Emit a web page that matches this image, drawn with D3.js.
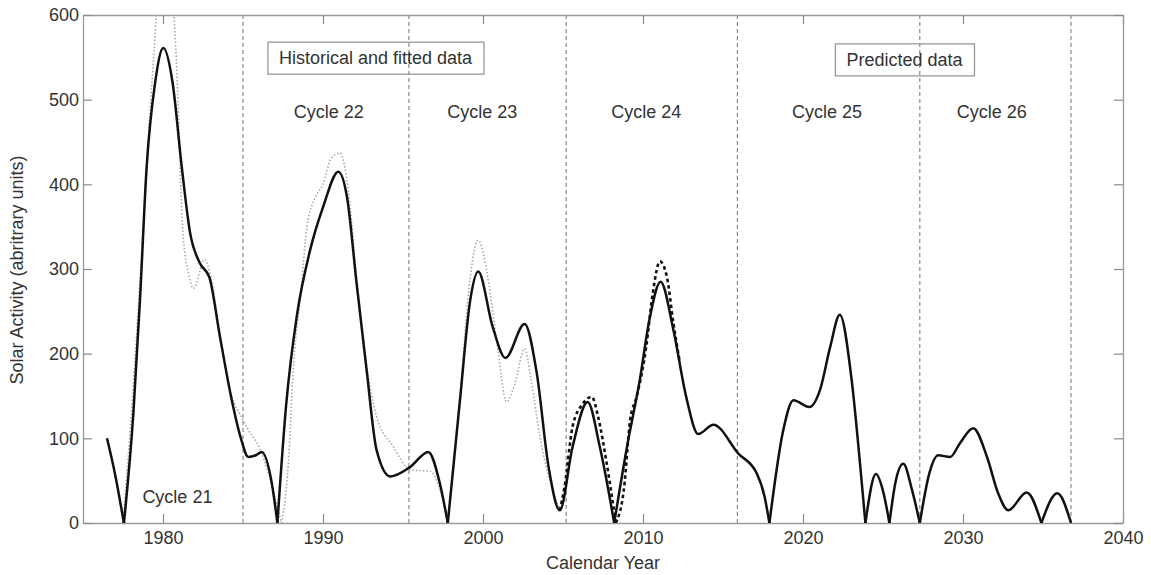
<!DOCTYPE html>
<html>
<head>
<meta charset="utf-8">
<script src="https://cdn.jsdelivr.net/npm/d3@7"></script>
<style>
  body { margin: 0; background: #fff; }
  text { font-family: "Liberation Sans", Arial, Helvetica, sans-serif; fill: #333; }
</style>
</head>
<body>
<div id="vis"></div>
<script>
// fitted / predicted activity (solid line)
var fitYears = [1976.5, 1977.0, 1977.56, 1978.15, 1978.56, 1978.98, 1979.5, 1980.02, 1980.6, 1981.17,
  1981.7, 1982.3, 1982.9, 1983.56, 1984.3, 1984.9, 1985.33, 1985.8, 1986.17, 1986.8,
  1987.15, 1987.7, 1988.36, 1989.19, 1990.02, 1990.96, 1991.5, 1992.1, 1992.73, 1993.35,
  1994.2, 1995.44, 1996.58, 1997.3, 1997.8, 1998.56, 1999.2, 1999.7, 2000.6, 2001.4,
  2002.6, 2003.36, 2004.1, 2004.8, 2005.6, 2006.54, 2007.3, 2008.2, 2009.0, 2009.8,
  2010.4, 2011.1, 2011.9, 2012.7, 2013.45, 2014.4, 2015.96, 2017.1, 2017.6, 2017.9,
  2018.77, 2019.4, 2020.4, 2021.06, 2021.7, 2022.3, 2023.04, 2023.56, 2023.9, 2024.56,
  2025.0, 2025.4, 2025.8, 2026.27, 2026.8, 2027.3, 2027.9, 2028.45, 2029.2, 2029.8,
  2030.64, 2031.5, 2032.2, 2032.83, 2033.98, 2034.9, 2035.9, 2036.75];
var fitValues = [100, 58, 0, 130, 263, 421, 519, 561, 520, 421,
  342, 307, 290, 220, 145, 98, 78, 80, 84, 47,
  0, 140, 244, 322, 374, 415, 385, 283, 180, 86,
  55, 66, 84, 47, 0, 145, 263, 297, 232, 195,
  235, 177, 66, 15, 90, 143, 90, 0, 90, 169,
  240, 285, 228, 149, 105, 116, 82, 59, 31, 0,
  110, 145, 137, 157, 208, 246, 169, 71, 0, 58,
  38, 0, 50, 70, 40, 0, 59, 80, 78, 94,
  112, 78, 35, 15, 36, 0, 35, 0];

// historical observations (light dotted line)
var obsYears = [1976.5, 1977.0, 1977.5, 1978.1, 1978.6, 1979.0, 1979.45, 1979.75, 1980.1, 1980.5,
  1980.8, 1981.25, 1981.6, 1981.9, 1982.6, 1983.0, 1983.56, 1984.3, 1984.9, 1985.4,
  1986.0, 1986.6, 1987.4, 1987.9, 1988.1, 1988.6, 1989.0, 1989.5, 1990.0, 1990.5,
  1991.06, 1991.6, 1992.1, 1992.7, 1993.35, 1994.4, 1995.44, 1996.7, 1997.3, 1997.8,
  1998.56, 1999.2, 1999.7, 2000.3, 2000.85, 2001.48, 2002.0, 2002.6, 2003.0, 2003.56,
  2004.1, 2004.8];
var obsValues = [100, 58, 0, 150, 300, 430, 560, 640, 660, 640,
  560, 342, 295, 277, 311, 290, 222, 150, 125, 108,
  90, 58, 0, 90, 169, 270, 350, 384, 400, 430,
  437, 390, 290, 190, 126, 90, 63, 61, 40, 0,
  150, 290, 334, 290, 216, 143, 165, 206, 170, 102,
  55, 15];

// cycle 24 observations (black dashed line)
var c24Years = [2004.8, 2005.1, 2005.6, 2006.2, 2006.8, 2007.2, 2007.7, 2008.3, 2008.8, 2009.2,
  2009.6, 2010.2, 2010.6, 2011.06, 2011.5, 2011.9, 2012.3];
var c24Values = [15, 43, 114, 140, 149, 125, 74, 0, 39, 122,
  149, 208, 270, 309, 290, 236, 190];

// cycle boundaries and labels
var boundaries = [1985.0, 1995.37, 2005.2, 2015.9, 2027.3, 2036.75];
var cycleNames = ["Cycle 21", "Cycle 22", "Cycle 23", "Cycle 24", "Cycle 25", "Cycle 26"];
var cycleLabelYears = [1980.9, 1990.36, 1999.95, 2010.2, 2021.5, 2031.8];
var cycleLabelValues = [31, 485, 485, 485, 485, 485];

var xTicks = [1980, 1990, 2000, 2010, 2020, 2030, 2040];
var yTicks = [0, 100, 200, 300, 400, 500, 600];

var margin = {top: 15, right: 28, bottom: 52, left: 83},
    width = 1151 - margin.left - margin.right,
    height = 575 - margin.top - margin.bottom;

var svg = d3.select("#vis").append("svg")
    .attr("width", 1151)
    .attr("height", 575)
  .append("g")
    .attr("transform", "translate(" + margin.left + "," + margin.top + ")");

var x = d3.scaleLinear().domain([1975, 2040]).range([0, width]);
var y = d3.scaleLinear().domain([0, 600]).range([height, 0]);

svg.append("clipPath").attr("id", "clip")
  .append("rect").attr("width", width).attr("height", height);

// cycle boundary lines
svg.selectAll(".bound")
    .data(boundaries)
    .enter()
    .append("line")
    .attr("x1", function(d) { return x(d); })
    .attr("x2", function(d) { return x(d); })
    .attr("y1", 0)
    .attr("y2", height)
    .attr("stroke", "#8a8a8a")
    .attr("stroke-width", 1.2)
    .attr("stroke-dasharray", "4,3");

// axes, MATLAB style box with inward ticks
function styleAxis(g) {
  g.selectAll(".domain").attr("stroke", "#9a9a9a").attr("stroke-width", 1.3);
  g.selectAll(".tick line").attr("stroke", "#8a8a8a").attr("stroke-width", 1.2);
  g.selectAll("text").style("font-size", "18px").attr("fill", "#333");
}
svg.append("g")
    .attr("transform", "translate(0," + height + ")")
    .call(d3.axisBottom(x).tickValues(xTicks).tickFormat(d3.format("d")).tickSizeInner(-9).tickSizeOuter(0).tickPadding(8))
    .call(styleAxis);
svg.append("g")
    .call(d3.axisTop(x).tickValues(xTicks).tickFormat("").tickSizeInner(-9).tickSizeOuter(0))
    .call(styleAxis);
svg.append("g")
    .call(d3.axisLeft(y).tickValues(yTicks).tickSizeInner(-9).tickSizeOuter(0).tickPadding(4))
    .call(styleAxis);
svg.append("g")
    .attr("transform", "translate(" + width + ",0)")
    .call(d3.axisRight(y).tickValues(yTicks).tickFormat("").tickSizeInner(-9).tickSizeOuter(0))
    .call(styleAxis);

// split a series at its zero points so the minima stay sharp
function segments(xs, ys) {
  var out = [], cur = [];
  xs.forEach(function(v, i) {
    cur.push([v, ys[i]]);
    if (ys[i] === 0 && cur.length > 1) { out.push(cur); cur = [[v, ys[i]]]; }
  });
  if (cur.length > 1) out.push(cur);
  return out;
}

var line = d3.line()
    .x(function(d) { return x(d[0]); })
    .y(function(d) { return y(d[1]); })
    .curve(d3.curveMonotoneX);

var plot = svg.append("g").attr("clip-path", "url(#clip)");

plot.selectAll(".obs")
    .data(segments(obsYears, obsValues))
    .enter()
    .append("path")
    .attr("d", line)
    .attr("fill", "none")
    .attr("stroke", "#a8a8a8")
    .attr("stroke-width", 1.6)
    .attr("stroke-dasharray", "1.5,2");

plot.selectAll(".c24")
    .data(segments(c24Years, c24Values))
    .enter()
    .append("path")
    .attr("d", line)
    .attr("fill", "none")
    .attr("stroke", "#111")
    .attr("stroke-width", 2.6)
    .attr("stroke-dasharray", "3.5,3");

plot.selectAll(".fit")
    .data(segments(fitYears, fitValues))
    .enter()
    .append("path")
    .attr("d", line)
    .attr("fill", "none")
    .attr("stroke", "#111")
    .attr("stroke-width", 2.5)
    .attr("stroke-linejoin", "round");

// cycle labels
svg.selectAll(".cyc")
    .data(cycleNames)
    .enter()
    .append("text")
    .attr("x", function(d, i) { return x(cycleLabelYears[i]); })
    .attr("y", function(d, i) { return y(cycleLabelValues[i]); })
    .attr("text-anchor", "middle")
    .attr("dominant-baseline", "central")
    .style("font-size", "18px")
    .text(function(d) { return d; });

// boxed notes
function note(label, year, val) {
  var t = svg.append("text")
      .attr("x", x(year))
      .attr("y", y(val))
      .attr("text-anchor", "middle")
      .attr("dominant-baseline", "central")
      .style("font-size", "18px")
      .text(label);
  var b = t.node().getBBox();
  svg.append("rect")
      .attr("x", b.x - 11)
      .attr("y", b.y - 6)
      .attr("width", b.width + 22)
      .attr("height", b.height + 12)
      .attr("fill", "none")
      .attr("stroke", "#999")
      .attr("stroke-width", 1.3);
}
note("Historical and fitted data", 1993.28, 549);
note("Predicted data", 2026.34, 547);

// axis titles
svg.append("text")
    .attr("x", width / 2)
    .attr("y", height + 46)
    .attr("text-anchor", "middle")
    .style("font-size", "18px")
    .text("Calendar Year");
svg.append("text")
    .attr("transform", "rotate(-90)")
    .attr("x", -255)
    .attr("y", -60)
    .attr("text-anchor", "middle")
    .style("font-size", "18px")
    .text("Solar Activity (abritrary units)");
</script>
</body>
</html>
